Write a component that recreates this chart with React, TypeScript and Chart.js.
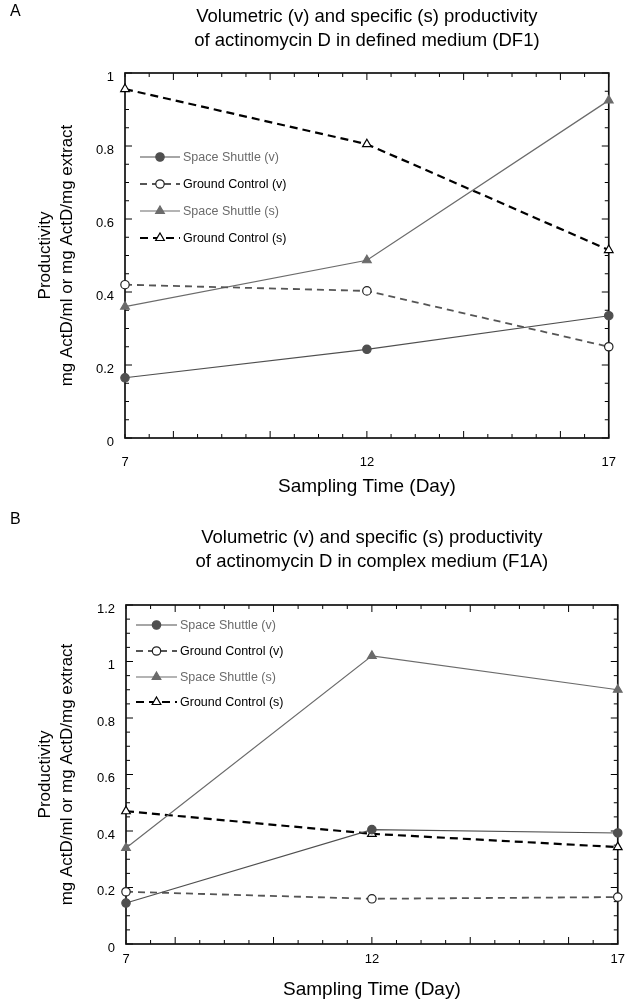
import React, { useEffect, useRef } from "react";
import { Chart, registerables } from "chart.js";

Chart.register(...registerables);

// ---------- data ----------
const days = [7, 12, 17];
const xTickLabels = [7, 12, 17];
const seriesLabels = [
  "Space Shuttle (v)",
  "Ground Control (v)",
  "Space Shuttle (s)",
  "Ground Control (s)",
];

// Panel A: defined medium (DF1)
const aSpaceShuttleV = [0.165, 0.243, 0.335];
const aGroundControlV = [0.42, 0.403, 0.25];
const aSpaceShuttleS = [0.36, 0.487, 0.925];
const aGroundControlS = [0.956, 0.805, 0.515];

// Panel B: complex medium (F1A)
const bSpaceShuttleV = [0.145, 0.405, 0.393];
const bGroundControlV = [0.185, 0.16, 0.166];
const bSpaceShuttleS = [0.34, 1.02, 0.9];
const bGroundControlS = [0.47, 0.39, 0.343];

const titleA = [
  "Volumetric (v) and specific (s) productivity",
  "of actinomycin D in defined medium (DF1)",
];
const titleB = [
  "Volumetric (v) and specific (s) productivity",
  "of actinomycin D in complex medium (F1A)",
];
const yTitle = ["Productivity", "mg ActD/ml or mg ActD/mg extract"];
const xTitle = "Sampling Time (Day)";

const FONT = "'Liberation Sans', Arial, Helvetica, sans-serif";

// ---------- styles ----------
const seriesStyles = [
  { color: "#4f4f4f", width: 1.2, dash: [] as number[], point: "circle", fill: "#4f4f4f", border: "#4f4f4f", r: 4.2, text: "#6b6b6b" },
  { color: "#555555", width: 1.8, dash: [7, 5], point: "circle", fill: "#ffffff", border: "#222222", r: 4.2, text: "#000000" },
  { color: "#6b6b6b", width: 1.2, dash: [] as number[], point: "triangle", fill: "#6b6b6b", border: "#6b6b6b", r: 5, text: "#6b6b6b" },
  { color: "#000000", width: 2.2, dash: [8, 5], point: "triangle", fill: "#ffffff", border: "#000000", r: 5, text: "#000000" },
];

type PanelCfg = {
  letter: string;
  title: string[];
  series: number[][];
  yMax: number;
  W: number;
  H: number;
  area: { left: number; right: number; top: number; bottom: number };
  titleY: number[];
  letterY: number;
  xPad: number;
  legendRows: number[];
  legendX: number[]; // line start, line end, text start (relative to chart left)
};

function drawMarker(ctx: CanvasRenderingContext2D, kind: string, x: number, y: number, r: number, fill: string, border: string) {
  ctx.save();
  ctx.setLineDash([]);
  ctx.beginPath();
  if (kind === "circle") {
    ctx.arc(x, y, r, 0, Math.PI * 2);
  } else {
    let rad = 0;
    ctx.moveTo(x + Math.sin(rad) * r, y - Math.cos(rad) * r);
    rad += (2 * Math.PI) / 3;
    ctx.lineTo(x + Math.sin(rad) * r, y - Math.cos(rad) * r);
    rad += (2 * Math.PI) / 3;
    ctx.lineTo(x + Math.sin(rad) * r, y - Math.cos(rad) * r);
    ctx.closePath();
  }
  ctx.fillStyle = fill;
  ctx.fill();
  ctx.lineWidth = 1.2;
  ctx.strokeStyle = border;
  ctx.stroke();
  ctx.restore();
}

const decorPlugin = {
  id: "decor",
  beforeDatasetsDraw(chart: any) {
    const cfg: PanelCfg = chart.options.plugins.decor.cfg;
    const { ctx, chartArea: a } = chart;
    const x = chart.scales.x;
    const y = chart.scales.y;
    ctx.save();
    ctx.strokeStyle = "#000";
    ctx.lineWidth = 1;
    const seg = (x1: number, y1: number, x2: number, y2: number) => {
      ctx.beginPath();
      ctx.moveTo(x1, y1);
      ctx.lineTo(x2, y2);
      ctx.stroke();
    };
    for (let k = 0; k <= 20; k++) {
      const v = 7 + k * 0.5;
      const px = x.getPixelForValue(v);
      const len = v % 2 === 0 ? 7 : 4;
      seg(px, a.bottom, px, a.bottom - len);
      seg(px, a.top, px, a.top + len);
    }
    const n = Math.round(cfg.yMax / 0.05);
    for (let k = 0; k <= n; k++) {
      const py = y.getPixelForValue(k * 0.05);
      const len = k % 4 === 0 ? 7 : 4;
      seg(a.left, py, a.left + len, py);
      seg(a.right, py, a.right - len, py);
    }
    ctx.lineWidth = 1.7;
    ctx.strokeStyle = "#111";
    ctx.strokeRect(a.left, a.top, a.right - a.left, a.bottom - a.top);
    ctx.restore();
  },
  afterDraw(chart: any) {
    const cfg: PanelCfg = chart.options.plugins.decor.cfg;
    const { ctx, chartArea: a } = chart;
    ctx.save();
    // panel letter
    ctx.fillStyle = "#000";
    ctx.font = `16px ${FONT}`;
    ctx.textAlign = "left";
    ctx.textBaseline = "middle";
    ctx.fillText(cfg.letter, 10, cfg.letterY);
    // title
    ctx.font = `18.5px ${FONT}`;
    ctx.textAlign = "center";
    const cx = (a.left + a.right) / 2;
    cfg.title.forEach((t, i) => ctx.fillText(t, cx, cfg.titleY[i]));
    // legend
    chart.data.datasets.forEach((ds: any, i: number) => {
      const st = seriesStyles[i];
      const yy = a.top + cfg.legendRows[i];
      const x1 = a.left + cfg.legendX[0];
      const x2 = a.left + cfg.legendX[1];
      ctx.save();
      ctx.strokeStyle = st.color;
      ctx.lineWidth = st.width;
      ctx.setLineDash(st.dash);
      ctx.beginPath();
      ctx.moveTo(x1, yy);
      ctx.lineTo(x2, yy);
      ctx.stroke();
      ctx.restore();
      drawMarker(ctx, st.point, (x1 + x2) / 2, yy, st.r, st.fill, st.border);
      ctx.fillStyle = st.text;
      ctx.font = `12.5px ${FONT}`;
      ctx.textAlign = "left";
      ctx.textBaseline = "middle";
      ctx.fillText(ds.label, a.left + cfg.legendX[2], yy + 1);
    });
    ctx.restore();
  },
};

function Panel({ cfg, top }: { cfg: PanelCfg; top: number }) {
  const ref = useRef<HTMLCanvasElement | null>(null);
  useEffect(() => {
    if (!ref.current) return;
    const { area, W, H } = cfg;
    const chart = new Chart(ref.current, {
      type: "line",
      data: {
        datasets: cfg.series.map((vals, i) => {
          const st = seriesStyles[i];
          return {
            label: seriesLabels[i],
            data: days.map((d, j) => ({ x: d, y: vals[j] })),
            borderColor: st.color,
            borderWidth: st.width,
            borderDash: st.dash,
            pointStyle: st.point,
            pointRadius: st.r,
            pointBackgroundColor: st.fill,
            pointBorderColor: st.border,
            pointBorderWidth: 1.2,
            tension: 0,
            clip: false,
            fill: false,
          } as any;
        }),
      },
      options: {
        animation: false,
        responsive: false,
        events: [],
        layout: { padding: { left: 0, top: area.top, right: W - area.right, bottom: 0 } },
        plugins: {
          legend: { display: false },
          tooltip: { enabled: false },
          title: { display: false },
          decor: { cfg },
        } as any,
        scales: {
          x: {
            type: "linear",
            min: 7,
            max: 17,
            afterBuildTicks: (s: any) => {
              s.ticks = xTickLabels.map((v) => ({ value: v }));
            },
            afterFit: (s: any) => {
              s.height = H - area.bottom;
            },
            ticks: {
              padding: cfg.xPad,
              color: "#000",
              autoSkip: false,
              maxRotation: 0,
              font: { family: FONT, size: 13 },
              callback: (v: any) => String(Math.round(Number(v))),
            },
            grid: { display: false, drawTicks: false },
            border: { display: false },
            title: {
              display: true,
              text: xTitle,
              color: "#000",
              font: { family: FONT, size: 19 },
              padding: { top: 0, bottom: 1.6 },
            },
          },
          y: {
            type: "linear",
            min: 0,
            max: cfg.yMax,
            afterFit: (s: any) => {
              s.width = area.left;
            },
            ticks: {
              stepSize: 0.2,
              padding: 11,
              labelOffset: 4,
              color: "#000",
              font: { family: FONT, size: 13 },
              callback: (v: any) => String(Math.round(Number(v) * 100) / 100),
            },
            grid: { display: false, drawTicks: false },
            border: { display: false },
            title: {
              display: true,
              text: yTitle,
              color: "#000",
              font: { family: FONT, size: 17, lineHeight: 1.25 },
              padding: { top: 35, bottom: 0 },
            },
          },
        } as any,
      },
      plugins: [decorPlugin as any],
    });
    return () => chart.destroy();
  }, [cfg]);
  return (
    <canvas
      ref={ref}
      width={cfg.W}
      height={cfg.H}
      style={{ position: "absolute", left: 0, top, width: cfg.W, height: cfg.H, display: "block" }}
    />
  );
}

const panelA: PanelCfg = {
  letter: "A",
  title: titleA,
  series: [aSpaceShuttleV, aGroundControlV, aSpaceShuttleS, aGroundControlS],
  yMax: 1,
  W: 633,
  H: 500,
  area: { left: 125, right: 620, top: 73, bottom: 438 },
  titleY: [17, 41],
  letterY: 12,
  xPad: 17,
  legendRows: [84, 111, 138, 165],
  legendX: [15, 55, 58],
};

const panelB: PanelCfg = {
  letter: "B",
  title: titleB,
  series: [bSpaceShuttleV, bGroundControlV, bSpaceShuttleS, bGroundControlS],
  yMax: 1.2,
  W: 633,
  H: 503,
  area: { left: 126, right: 627, top: 105, bottom: 444 },
  titleY: [38, 62],
  letterY: 20,
  xPad: 8,
  legendRows: [20, 46, 72, 97],
  legendX: [10, 51, 54],
};

export default function App() {
  return (
    <div style={{ position: "absolute", left: 0, top: 0, width: 633, height: 1003, background: "#fff" }}>
      <Panel cfg={panelA} top={0} />
      <Panel cfg={panelB} top={500} />
    </div>
  );
}
